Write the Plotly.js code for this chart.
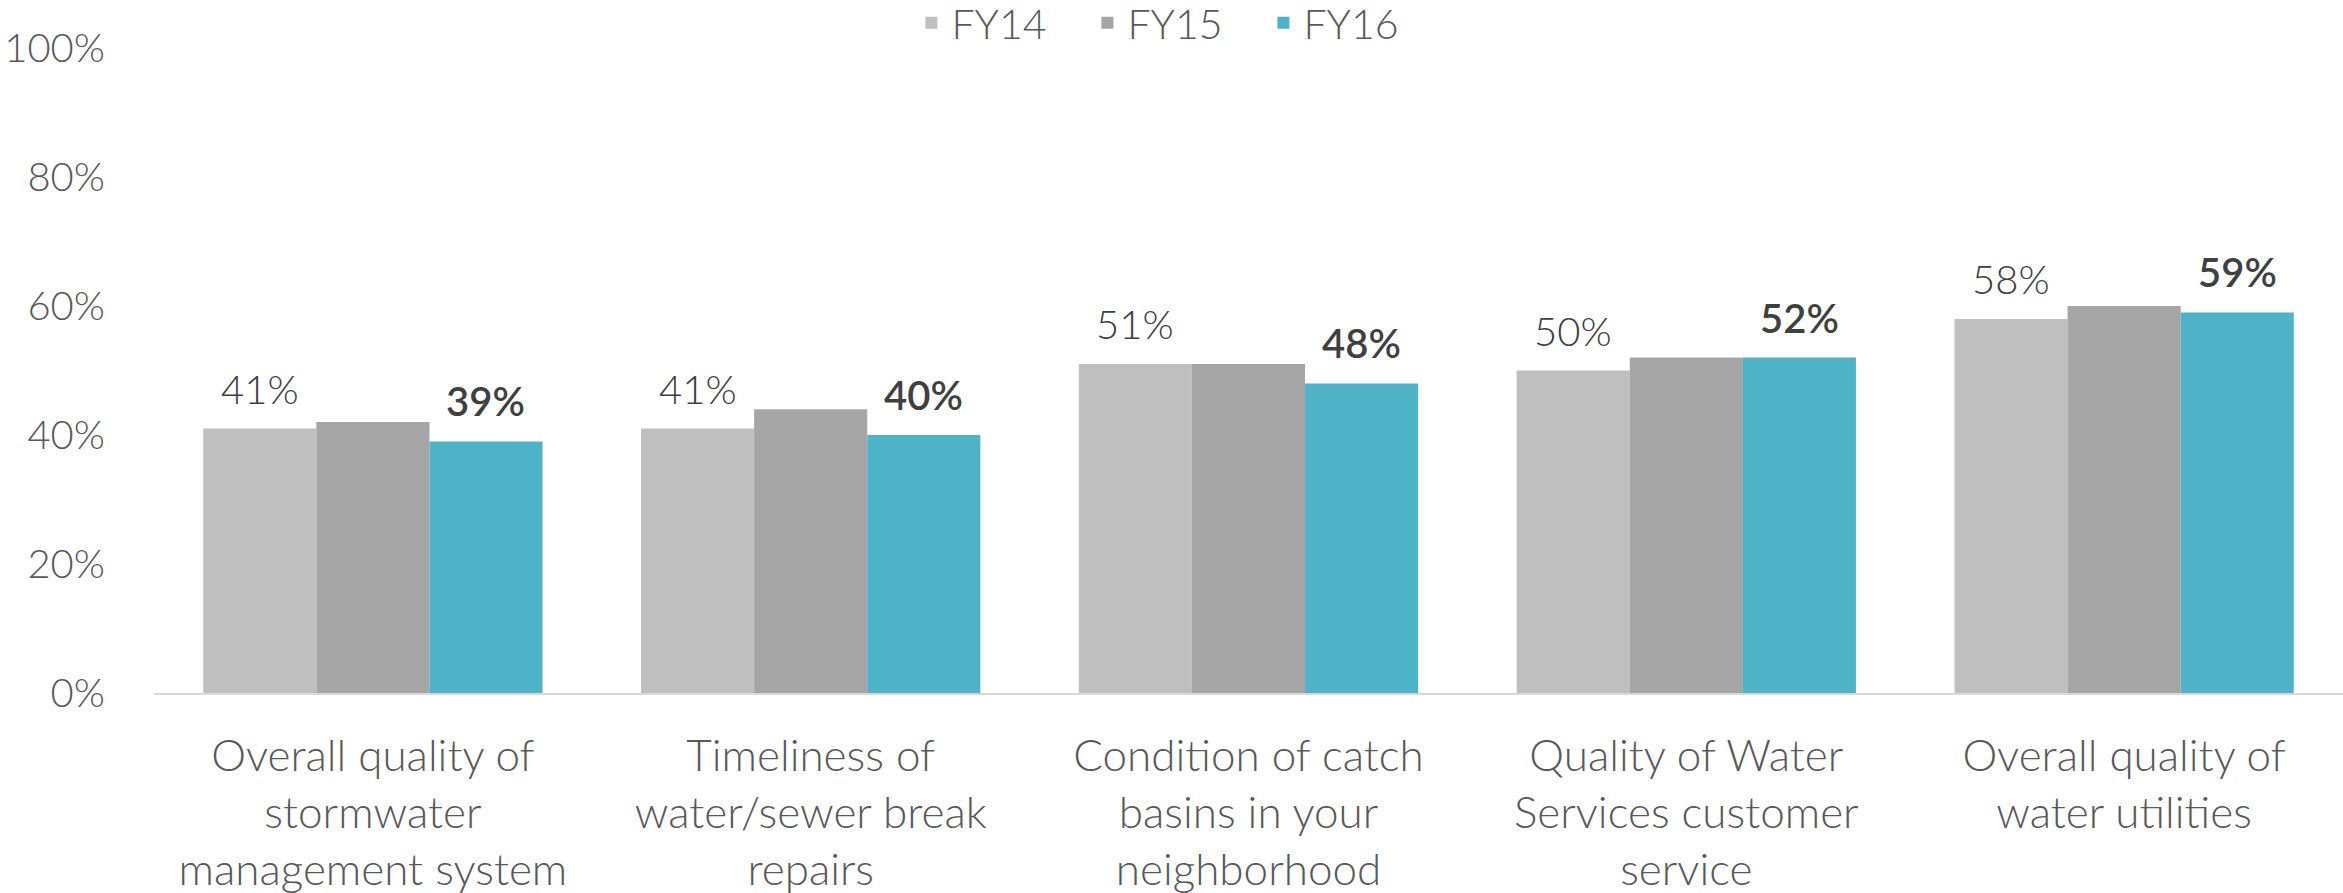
<!DOCTYPE html>
<html>
<head>
<meta charset="utf-8">
<script src="https://cdn.plot.ly/plotly-3.0.1.min.js"></script>
<style>html,body{margin:0;padding:0;background:#fff;}#chart{width:2343px;height:893px;}</style>
</head>
<body>
<div id="chart"></div>
<script>
const categories = [
  "Overall quality of<br>stormwater<br>management system",
  "Timeliness of<br>water/sewer break<br>repairs",
  "Condition of catch<br>basins in your<br>neighborhood",
  "Quality of Water<br>Services customer<br>service",
  "Overall quality of<br>water utilities"
];
const seriesNames = ["FY14", "FY15", "FY16"];
const fy14 = [0.41, 0.41, 0.51, 0.50, 0.58];
const fy15 = [0.42, 0.44, 0.51, 0.52, 0.60];
const fy16 = [0.39, 0.40, 0.48, 0.52, 0.59];
const yTicks = [0, 0.2, 0.4, 0.6, 0.8, 1.0];

const colors = ["#bfbfbf", "#a5a5a5", "#4fb3c8"];
const FONT = "Lato, 'Open Sans', sans-serif";
const W = 2343, H = 893;
const margin = {l: 154, r: 0, t: 48, b: 200, autoexpand: false};
const bargap = 0.225;

const data = [fy14, fy15, fy16].map((vals, i) => ({
  type: "bar",
  name: seriesNames[i],
  x: categories,
  y: vals,
  marker: {color: colors[i]},
  hoverinfo: "skip"
}));

// label annotations for FY14 and FY16, offset to their bar within the group
const plotW = W - margin.l - margin.r;
const catW = plotW / categories.length;
const barW = catW * (1 - bargap) / 3;
const annotations = [];
[[fy14, -1, "300"], [fy16, 1, "600"]].forEach(([vals, side, weight]) => {
  vals.forEach((v, j) => {
    annotations.push({
      x: categories[j], y: v, xref: "x", yref: "y",
      text: Math.round(v * 100) + "%",
      showarrow: false, yanchor: "bottom", xanchor: "center",
      xshift: side * barW, yshift: 14,
      font: {family: FONT, size: 40, color: "#404040", weight: weight}
    });
  });
});

const layout = {
  width: W, height: H,
  margin: margin,
  paper_bgcolor: "#fff", plot_bgcolor: "#fff",
  barmode: "group",
  bargap: bargap, bargroupgap: 0,
  font: {family: FONT, color: "#595959", weight: 300},
  showlegend: true,
  legend: {
    orientation: "h", xref: "container", yref: "container",
    x: 0.389, xanchor: "left", y: 0.974, yanchor: "middle",
    entrywidth: 131, entrywidthmode: "pixels",
    font: {family: FONT, size: 41, color: "#595959", weight: 300},
    itemclick: false, itemdoubleclick: false,
    bgcolor: "rgba(0,0,0,0)"
  },
  xaxis: {
    type: "category",
    showgrid: false, zeroline: false,
    showline: true, linecolor: "#d9d9d9", linewidth: 2,
    ticks: "outside", ticklen: 23, tickcolor: "rgba(0,0,0,0)",
    tickfont: {family: FONT, size: 44, color: "#595959", weight: 300},
    fixedrange: true
  },
  yaxis: {
    range: [0, 1], tickvals: yTicks, tickformat: ".0%",
    showgrid: false, zeroline: false, showline: false,
    ticks: "outside", ticklen: 40, tickcolor: "rgba(0,0,0,0)",
    tickfont: {family: FONT, size: 40, color: "#595959", weight: 300},
    fixedrange: true
  },
  annotations: annotations
};

Plotly.newPlot("chart", data, layout, {displayModeBar: false, staticPlot: true});
</script>
</body>
</html>
